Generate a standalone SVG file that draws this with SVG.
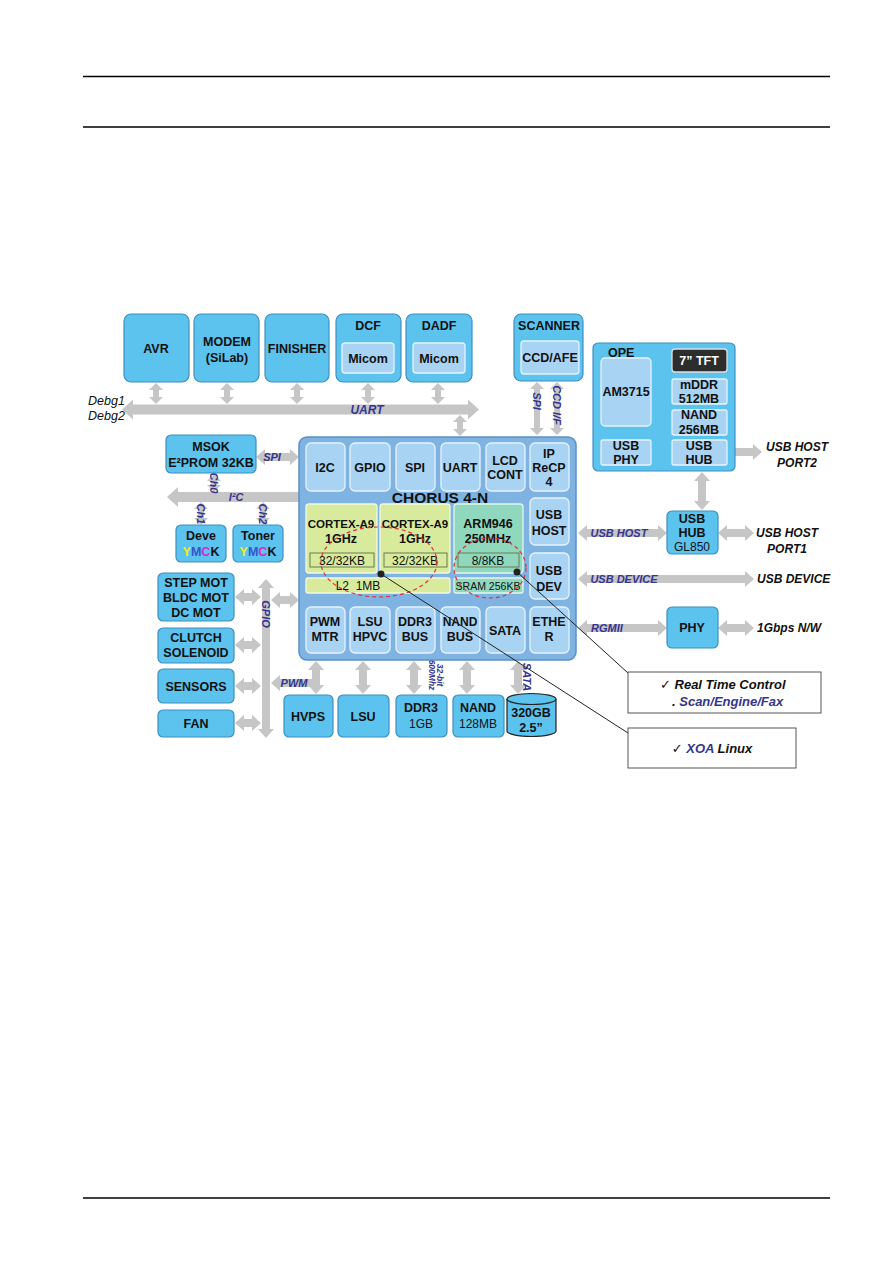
<svg xmlns="http://www.w3.org/2000/svg" width="893" height="1263" viewBox="0 0 893 1263">
<style>
.box{fill:#5bc3ee;stroke:#3f8fc0;stroke-width:1.2}
.chorus{fill:#7fb4e2;stroke:#5b90c6;stroke-width:1.5}
.ope{fill:#5bc3ee;stroke:#3f8fc0;stroke-width:1.2}
.inner{fill:#a9d3f3;stroke:#e6f3ff;stroke-width:1.3}
.green{fill:#d8eb9d;stroke:#f3f9df;stroke-width:1.3}
.teal{fill:#8fd8bd;stroke:#e3f6ee;stroke-width:1.3}
.sub{fill:none;stroke:#6a7a50;stroke-width:1}
.dark{fill:#2d2d2d;stroke:#e0e0e0;stroke-width:1.3}
.t{font-family:'Liberation Sans',Arial,sans-serif;font-weight:bold;font-size:12.5px;fill:#111;text-anchor:middle}
.n{font-family:'Liberation Sans',Arial,sans-serif;font-size:12px;fill:#111;text-anchor:middle}
.lbl{font-family:'Liberation Sans',Arial,sans-serif;font-weight:bold;font-style:italic;font-size:11px;fill:#34358f;text-anchor:middle}
.ext{font-family:'Liberation Sans',Arial,sans-serif;font-weight:bold;font-style:italic;font-size:12px;fill:#111;text-anchor:middle}
.start{text-anchor:start}
.g{stroke:#c6c6c6;fill:none}
.w8{stroke-width:8}
.w10{stroke-width:10}
.w6{stroke-width:6}
.ptr{stroke:#222;stroke-width:1;fill:none}
.rule{stroke:#000;stroke-width:1.3}
.chk{font-family:'DejaVu Sans',sans-serif;font-weight:normal;font-style:normal;font-size:13px}
</style>
<defs>
<marker id="ms" markerUnits="userSpaceOnUse" viewBox="0 0 7 14" markerWidth="7" markerHeight="14" refX="0" refY="7" orient="auto-start-reverse"><path d="M0,0 L7,7 L0,14 z" fill="#c6c6c6"/></marker>
<marker id="mm" markerUnits="userSpaceOnUse" viewBox="0 0 9 16" markerWidth="9" markerHeight="16" refX="0" refY="8" orient="auto-start-reverse"><path d="M0,0 L9,8 L0,16 z" fill="#c6c6c6"/></marker>
<marker id="ml" markerUnits="userSpaceOnUse" viewBox="0 0 11 20" markerWidth="11" markerHeight="20" refX="0" refY="10" orient="auto-start-reverse"><path d="M0,0 L11,10 L0,20 z" fill="#c6c6c6"/></marker>
</defs>
<rect width="893" height="1263" fill="#fff"/>
<g id="rules">
<line class="rule" x1="83" y1="76.5" x2="830" y2="76.5"/>
<line class="rule" x1="83" y1="127" x2="830" y2="127"/>
<line class="rule" x1="83" y1="1198" x2="830" y2="1198"/>
</g>

<g id="connectors">
<line class="g w10" x1="133" y1="409.5" x2="468" y2="409.5" marker-start="url(#ml)" marker-end="url(#ml)"/>
<line class="g w6" x1="156" y1="390" x2="156" y2="397" marker-start="url(#ms)" marker-end="url(#ms)"/>
<line class="g w6" x1="227" y1="390" x2="227" y2="397" marker-start="url(#ms)" marker-end="url(#ms)"/>
<line class="g w6" x1="297" y1="390" x2="297" y2="397" marker-start="url(#ms)" marker-end="url(#ms)"/>
<line class="g w6" x1="368" y1="390" x2="368" y2="397" marker-start="url(#ms)" marker-end="url(#ms)"/>
<line class="g w6" x1="438" y1="390" x2="438" y2="397" marker-start="url(#ms)" marker-end="url(#ms)"/>
<line class="g w6" x1="460" y1="422" x2="460" y2="429" marker-start="url(#ms)" marker-end="url(#ms)"/>
<line class="g w6" x1="537" y1="389" x2="537" y2="428" marker-start="url(#ms)" marker-end="url(#ms)"/>
<line class="g w6" x1="557" y1="389" x2="557" y2="428" marker-start="url(#ms)" marker-end="url(#ms)"/>
<line class="g w6" x1="651" y1="365" x2="665" y2="365" marker-end="url(#ms)"/>
<line class="g w6" x1="651" y1="390" x2="665" y2="390" marker-end="url(#ms)"/>
<line class="g w6" x1="672" y1="452" x2="658" y2="452" marker-end="url(#ms)"/>
<line class="g w6" x1="620" y1="440" x2="620" y2="434" marker-end="url(#ms)"/>
<line class="g w8" x1="728" y1="452" x2="753" y2="452" marker-end="url(#mm)"/>
<line class="g w8" x1="702" y1="481" x2="702" y2="501" marker-start="url(#mm)" marker-end="url(#mm)"/>
<line class="g w8" x1="587" y1="533" x2="658" y2="533" marker-start="url(#mm)" marker-end="url(#mm)"/>
<line class="g w8" x1="727" y1="533" x2="745" y2="533" marker-start="url(#mm)" marker-end="url(#mm)"/>
<line class="g w8" x1="587" y1="579" x2="745" y2="579" marker-start="url(#mm)" marker-end="url(#mm)"/>
<line class="g w8" x1="587" y1="628" x2="658" y2="628" marker-start="url(#mm)" marker-end="url(#mm)"/>
<line class="g w8" x1="727" y1="628" x2="745" y2="628" marker-start="url(#mm)" marker-end="url(#mm)"/>
<line class="g w8" x1="265" y1="457" x2="290" y2="457" marker-start="url(#mm)" marker-end="url(#mm)"/>
<line class="g w10" x1="178" y1="497" x2="299" y2="497" marker-start="url(#ml)"/>
<line class="g w6" x1="214" y1="481" x2="214" y2="485" marker-start="url(#ms)" marker-end="url(#ms)"/>
<line class="g w6" x1="201" y1="509" x2="201" y2="518" marker-start="url(#ms)" marker-end="url(#ms)"/>
<line class="g w6" x1="263" y1="509" x2="263" y2="518" marker-start="url(#ms)" marker-end="url(#ms)"/>
<line class="g w8" x1="266" y1="588" x2="266" y2="729" marker-start="url(#mm)" marker-end="url(#mm)"/>
<line class="g w8" x1="244" y1="597" x2="252" y2="597" marker-start="url(#mm)" marker-end="url(#mm)"/>
<line class="g w8" x1="244" y1="645" x2="252" y2="645" marker-start="url(#mm)" marker-end="url(#mm)"/>
<line class="g w8" x1="244" y1="686" x2="252" y2="686" marker-start="url(#mm)" marker-end="url(#mm)"/>
<line class="g w8" x1="244" y1="723" x2="252" y2="723" marker-start="url(#mm)" marker-end="url(#mm)"/>
<line class="g w8" x1="280" y1="600" x2="290" y2="600" marker-start="url(#mm)" marker-end="url(#mm)"/>
<line class="g w8" x1="280" y1="683" x2="316" y2="683" marker-start="url(#mm)"/>
<line class="g w8" x1="316" y1="670" x2="316" y2="685" marker-start="url(#mm)" marker-end="url(#mm)"/>
<line class="g w8" x1="363" y1="670" x2="363" y2="685" marker-start="url(#mm)" marker-end="url(#mm)"/>
<line class="g w8" x1="414" y1="670" x2="414" y2="685" marker-start="url(#mm)" marker-end="url(#mm)"/>
<line class="g w8" x1="467" y1="670" x2="467" y2="685" marker-start="url(#mm)" marker-end="url(#mm)"/>
<line class="g w8" x1="518" y1="670" x2="518" y2="685" marker-start="url(#mm)" marker-end="url(#mm)"/>
</g>

<g id="bus-labels">
<text class="lbl" x="367" y="414" style="font-size:12px">UART</text>
<text class="n start" x="88" y="405" style="font-style:italic;font-size:12.5px">Debg1</text>
<text class="n start" x="88" y="420" style="font-style:italic;font-size:12.5px">Debg2</text>
<text class="lbl" transform="translate(533,401) rotate(90)">SPI</text>
<text class="lbl" transform="translate(553,405) rotate(90)">CCD I/F</text>
<text class="lbl" x="272" y="461">SPI</text>
<text class="lbl" x="236" y="501">I²C</text>
<text class="lbl" transform="translate(210,483) rotate(90)">Ch0</text>
<text class="lbl" transform="translate(197,514) rotate(90)">Ch1</text>
<text class="lbl" transform="translate(259,514) rotate(90)">Ch2</text>
<text class="lbl" transform="translate(262,614) rotate(90)">GPIO</text>
<text class="lbl" x="294" y="687">PWM</text>
<text class="lbl" transform="translate(437,675) rotate(90)" style="font-size:8.5px">32-bit</text>
<text class="lbl" transform="translate(429,675) rotate(90)" style="font-size:8.5px">600Mhz</text>
<text class="lbl" transform="translate(523,677) rotate(90)">SATA</text>
<text class="lbl" x="619" y="537">USB HOST</text>
<text class="lbl" x="624" y="583">USB DEVICE</text>
<text class="lbl" x="607" y="632">RGMII</text>
</g>

<g id="avr"><rect class="box" x="124" y="314" width="65" height="68" rx="7"/><text class="t" x="156" y="353">AVR</text></g>
<g id="modem"><rect class="box" x="194" y="314" width="65" height="68" rx="7"/><text class="t" x="227" y="346">MODEM</text><text class="t" x="227" y="362">(SiLab)</text></g>
<g id="finisher"><rect class="box" x="265" y="314" width="64" height="68" rx="7"/><text class="t" x="297" y="353">FINISHER</text></g>
<g id="dcf"><rect class="box" x="336" y="314" width="65" height="68" rx="7"/><text class="t" x="368" y="330">DCF</text><rect class="inner" x="342" y="343" width="52" height="30" rx="3"/><text class="t" x="368" y="363">Micom</text></g>
<g id="dadf"><rect class="box" x="406" y="314" width="66" height="68" rx="7"/><text class="t" x="439" y="330">DADF</text><rect class="inner" x="413" y="343" width="52" height="30" rx="3"/><text class="t" x="439" y="363">Micom</text></g>
<g id="scanner"><rect class="box" x="514" y="314" width="69" height="67" rx="7"/><text class="t" x="549" y="330">SCANNER</text><rect class="inner" x="521" y="341" width="58" height="33" rx="3"/><text class="t" x="550" y="362">CCD/AFE</text></g>

<g id="ope">
<rect class="ope" x="593" y="343" width="142" height="128" rx="5"/>
<text class="t start" x="608" y="357">OPE</text>
<rect class="inner" x="601" y="358" width="50" height="68" rx="4"/><text class="t" x="626" y="396">AM3715</text>
<rect class="dark" x="672" y="349" width="55" height="23" rx="3"/><text class="t" x="699" y="365" style="fill:#fff">7” TFT</text>
<rect class="inner" x="672" y="379" width="55" height="25" rx="2"/><text class="t" x="699" y="389">mDDR</text><text class="t" x="699" y="403">512MB</text>
<rect class="inner" x="672" y="410" width="55" height="25" rx="2"/><text class="t" x="699" y="419">NAND</text><text class="t" x="699" y="434">256MB</text>
<rect class="inner" x="601" y="440" width="50" height="25" rx="2"/><text class="t" x="626" y="450">USB</text><text class="t" x="626" y="464">PHY</text>
<rect class="inner" x="672" y="440" width="55" height="25" rx="2"/><text class="t" x="699" y="450">USB</text><text class="t" x="699" y="464">HUB</text>
</g>
<g id="port2"><text class="ext" x="797" y="451">USB HOST</text><text class="ext" x="797" y="467">PORT2</text></g>

<g id="msok"><rect class="box" x="166" y="435" width="90" height="38" rx="5"/><text class="t" x="211" y="451">MSOK</text><text class="t" x="211" y="467">E²PROM 32KB</text></g>
<g id="deve"><rect class="box" x="176" y="525" width="50" height="37" rx="5"/><text class="t" x="201" y="540">Deve</text><text class="t" x="201" y="556"><tspan style="fill:#f2ee10">Y</tspan><tspan style="fill:#3356c8">M</tspan><tspan style="fill:#d62ad0">C</tspan><tspan>K</tspan></text></g>
<g id="toner"><rect class="box" x="233" y="525" width="50" height="37" rx="5"/><text class="t" x="258" y="540">Toner</text><text class="t" x="258" y="556"><tspan style="fill:#f2ee10">Y</tspan><tspan style="fill:#3356c8">M</tspan><tspan style="fill:#d62ad0">C</tspan><tspan>K</tspan></text></g>

<g id="stepmot"><rect class="box" x="158" y="573" width="76" height="48" rx="5"/><text class="t" x="196" y="587">STEP MOT</text><text class="t" x="196" y="602">BLDC MOT</text><text class="t" x="196" y="617">DC MOT</text></g>
<g id="clutch"><rect class="box" x="158" y="628" width="76" height="35" rx="5"/><text class="t" x="196" y="642">CLUTCH</text><text class="t" x="196" y="657">SOLENOID</text></g>
<g id="sensors"><rect class="box" x="158" y="669" width="76" height="34" rx="5"/><text class="t" x="196" y="691">SENSORS</text></g>
<g id="fan"><rect class="box" x="158" y="710" width="76" height="27" rx="5"/><text class="t" x="196" y="728">FAN</text></g>

<g id="chorus">
<rect class="chorus" x="299" y="437" width="277" height="223" rx="8"/>
<rect class="inner" x="306" y="443" width="39" height="48" rx="5"/><text class="t" x="325" y="472">I2C</text>
<rect class="inner" x="350" y="443" width="40" height="48" rx="5"/><text class="t" x="370" y="472">GPIO</text>
<rect class="inner" x="396" y="443" width="39" height="48" rx="5"/><text class="t" x="415" y="472">SPI</text>
<rect class="inner" x="441" y="443" width="39" height="48" rx="5"/><text class="t" x="460" y="472">UART</text>
<rect class="inner" x="486" y="443" width="39" height="48" rx="5"/><text class="t" x="505" y="465">LCD</text><text class="t" x="505" y="479">CONT</text>
<rect class="inner" x="530" y="443" width="39" height="48" rx="5"/><text class="t" x="549" y="458">IP</text><text class="t" x="549" y="472">ReCP</text><text class="t" x="549" y="486">4</text>
<text class="t" x="440" y="503" style="font-size:15.5px">CHORUS 4-N</text>
<rect class="green" x="306" y="504" width="71" height="69" rx="3"/><text class="t" x="341" y="528" style="font-size:11.5px">CORTEX-A9</text><text class="t" x="341" y="543">1GHz</text>
<rect class="sub" x="310" y="553" width="64" height="14"/><text class="n" x="342" y="564.5">32/32KB</text>
<rect class="green" x="380" y="504" width="70" height="69" rx="3"/><text class="t" x="415" y="528" style="font-size:11.5px">CORTEX-A9</text><text class="t" x="415" y="543">1GHz</text>
<rect class="sub" x="384" y="553" width="63" height="14"/><text class="n" x="415" y="564.5">32/32KB</text>
<rect class="green" x="306" y="578" width="144" height="15" rx="2"/><text class="n" x="358" y="590" style="white-space:pre">L2  1MB</text>
<rect class="teal" x="454" y="504" width="69" height="69" rx="3"/><text class="t" x="488" y="528">ARM946</text><text class="t" x="488" y="543">250MHz</text>
<rect class="sub" x="458" y="553" width="61" height="14"/><text class="n" x="488" y="564.5">8/8KB</text>
<rect class="teal" x="454" y="578" width="69" height="15" rx="2"/><text class="n" x="488" y="590" style="font-size:10.5px">SRAM 256KB</text>
<rect class="inner" x="530" y="498" width="39" height="47" rx="5"/><text class="t" x="549" y="519">USB</text><text class="t" x="549" y="535">HOST</text>
<rect class="inner" x="530" y="553" width="39" height="46" rx="5"/><text class="t" x="549" y="575">USB</text><text class="t" x="549" y="591">DEV</text>
<rect class="inner" x="306" y="607" width="39" height="46" rx="5"/><text class="t" x="325" y="626">PWM</text><text class="t" x="325" y="641">MTR</text>
<rect class="inner" x="350" y="607" width="40" height="46" rx="5"/><text class="t" x="370" y="626">LSU</text><text class="t" x="370" y="641">HPVC</text>
<rect class="inner" x="396" y="607" width="39" height="46" rx="5"/><text class="t" x="415" y="626">DDR3</text><text class="t" x="415" y="641">BUS</text>
<rect class="inner" x="441" y="607" width="39" height="46" rx="5"/><text class="t" x="460" y="626" style="font-size:12px">NAND</text><text class="t" x="460" y="641">BUS</text>
<rect class="inner" x="486" y="607" width="39" height="46" rx="5"/><text class="t" x="505" y="635">SATA</text>
<rect class="inner" x="530" y="607" width="39" height="46" rx="5"/><text class="t" x="549" y="626">ETHE</text><text class="t" x="549" y="641">R</text>
<ellipse cx="379" cy="562" rx="58" ry="35" fill="none" stroke="#e0303a" stroke-width="1.2" stroke-dasharray="4,3"/>
<ellipse cx="490" cy="568" rx="36" ry="30" fill="none" stroke="#e0303a" stroke-width="1.2" stroke-dasharray="4,3"/>
</g>

<g id="hvps"><rect class="box" x="284" y="695" width="49" height="42" rx="5"/><text class="t" x="308" y="721">HVPS</text></g>
<g id="lsu"><rect class="box" x="338" y="695" width="51" height="42" rx="5"/><text class="t" x="363" y="721">LSU</text></g>
<g id="ddr3"><rect class="box" x="396" y="695" width="51" height="42" rx="5"/><text class="t" x="421" y="712">DDR3</text><text class="n" x="421" y="728">1GB</text></g>
<g id="nand"><rect class="box" x="453" y="695" width="51" height="42" rx="5"/><text class="t" x="478" y="712">NAND</text><text class="n" x="478" y="728">128MB</text></g>
<g id="hdd">
<path d="M507,699 L507,731 A24.5,5.5 0 0 0 556,731 L556,699" class="box" style="stroke:#222"/>
<ellipse cx="531.5" cy="699" rx="24.5" ry="5.5" class="box" style="stroke:#222"/>
<text class="t" x="531" y="717">320GB</text><text class="t" x="531" y="732">2.5”</text>
</g>

<g id="usbhub"><rect class="box" x="667" y="511" width="51" height="43" rx="5"/><text class="t" x="692" y="523">USB</text><text class="t" x="692" y="537">HUB</text><text class="n" x="692" y="551">GL850</text></g>
<g id="phy"><rect class="box" x="667" y="607" width="51" height="41" rx="5"/><text class="t" x="692" y="632">PHY</text></g>
<g id="ext-right">
<text class="ext" x="787" y="537">USB HOST</text><text class="ext" x="787" y="553">PORT1</text>
<text class="ext start" x="757" y="583">USB DEVICE</text>
<text class="ext start" x="757" y="632">1Gbps N/W</text>
</g>

<g id="pointers">
<line class="ptr" x1="381" y1="574" x2="628" y2="733"/>
<line class="ptr" x1="517" y1="572" x2="628" y2="673"/>
<circle cx="381" cy="574" r="3.5" fill="#222"/>
<circle cx="517" cy="572" r="3.5" fill="#222"/>
</g>

<g id="callout-rt"><rect x="628" y="672" width="193" height="41" fill="#fff" stroke="#555" stroke-width="1"/>
<text class="ext start" x="660" y="689" style="font-size:13px"><tspan class="chk">✓</tspan> Real Time Control</text>
<text class="ext start" x="672" y="706" style="font-size:13px">. <tspan style="fill:#34358f">Scan/Engine/Fax</tspan></text></g>
<g id="callout-xoa"><rect x="628" y="728" width="168" height="40" fill="#fff" stroke="#555" stroke-width="1"/>
<text class="ext" x="712" y="753" style="font-size:13px"><tspan class="chk">✓</tspan> <tspan style="fill:#34358f">XOA</tspan> Linux</text></g>
</svg>
